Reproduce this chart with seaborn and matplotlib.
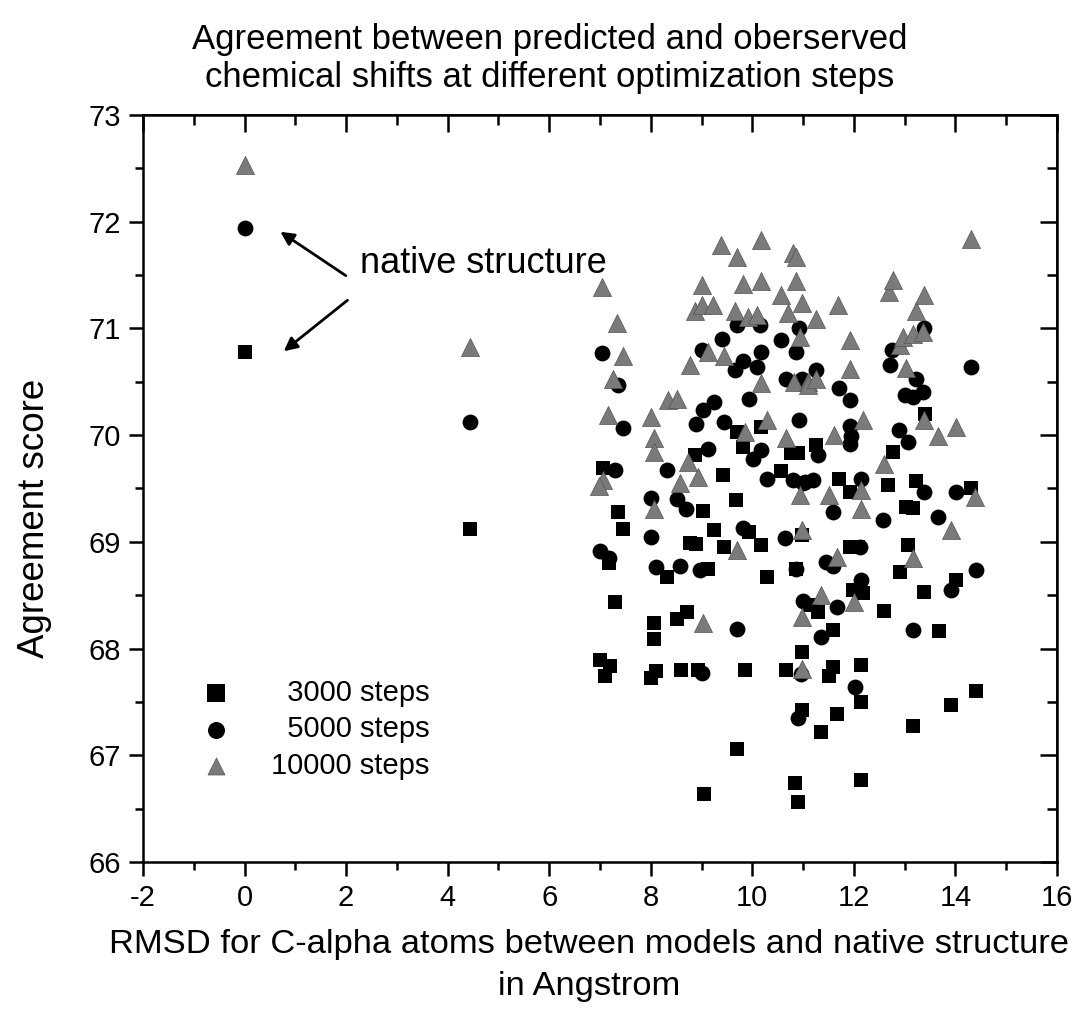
import numpy as np
import pandas as pd
import matplotlib
matplotlib.use("Agg")
import matplotlib.pyplot as plt
import seaborn as sns
from matplotlib.ticker import MultipleLocator

# ---------------- data ----------------
sq_x = [0, 4.44, 7.06, 7.36, 7.46, 7.18, 7.29, 7.01, 7.19, 7.09, 8.32, 8.06, 8.06, 8.11, 8.01,
        8.52, 8.71, 8.60, 8.93, 9.04, 8.87, 8.77, 8.89, 9.02, 9.13, 9.24, 9.44, 9.43, 9.67, 9.69,
        9.82, 9.94, 9.85, 9.70, 10.18, 10.18, 10.28, 10.57, 10.67, 10.77, 10.90, 10.97, 10.87,
        10.97, 10.97, 10.85, 10.90, 11.26, 11.29, 11.13, 11.36, 11.59, 11.59, 11.51, 11.66, 11.70,
        11.92, 11.92, 12.08, 11.98, 12.18, 12.15, 12.15, 12.15, 12.59, 12.67, 12.78, 12.90, 13.02,
        13.16, 13.07, 13.22, 13.16, 13.40, 13.39, 13.68, 13.92, 14.02, 14.31, 14.40]
sq_y = [70.78, 69.12, 69.69, 69.28, 69.12, 68.80, 68.44, 67.89, 67.84, 67.74, 68.67, 68.24, 68.09,
        67.79, 67.72, 68.28, 68.34, 67.80, 67.80, 66.64, 69.81, 68.99, 68.98, 69.29, 68.75, 69.11,
        68.95, 69.63, 69.39, 70.03, 69.89, 69.09, 67.80, 67.06, 70.08, 68.97, 68.67, 69.66, 67.80,
        69.83, 69.83, 69.06, 68.75, 67.97, 67.42, 66.74, 66.56, 69.91, 68.34, 68.41, 67.22, 68.17,
        67.83, 67.74, 67.39, 69.59, 69.47, 68.95, 68.95, 68.55, 68.52, 67.85, 67.50, 66.77, 68.35,
        69.53, 69.84, 68.72, 69.33, 69.32, 68.97, 69.57, 67.27, 70.20, 68.53, 68.16, 67.47, 68.64,
        69.50, 67.60]

ci_x = [0, 4.44, 7.03, 7.36, 7.46, 7.29, 7.00, 7.18, 8.01, 8.01, 8.10, 8.32, 8.51, 8.69, 8.58,
        8.96, 8.89, 9.02, 9.24, 9.13, 9.00, 9.41, 9.44, 9.00, 9.65, 9.82, 9.69, 9.94, 9.82, 9.69,
        10.09, 10.18, 10.16, 10.01, 10.18, 10.28, 10.57, 10.86, 10.92, 10.67, 10.97, 10.92, 10.80,
        10.99, 10.64, 10.87, 11.00, 10.95, 10.90, 11.26, 11.29, 11.03, 11.20, 11.46, 11.59, 11.59,
        11.67, 11.36, 11.71, 11.92, 11.92, 11.95, 11.92, 12.15, 12.13, 12.15, 12.02, 12.57, 12.76,
        12.72, 12.89, 13.07, 13.00, 13.16, 13.23, 13.36, 13.39, 13.39, 13.16, 13.66, 13.92, 14.02,
        14.31, 14.40]
ci_y = [71.94, 70.12, 70.77, 70.47, 70.07, 69.67, 68.91, 68.85, 69.41, 69.05, 68.76, 69.67, 69.40,
        69.31, 68.77, 68.74, 70.10, 70.24, 70.31, 69.87, 70.80, 70.90, 70.12, 67.77, 70.61, 70.69,
        71.03, 70.34, 69.13, 68.18, 70.64, 70.78, 71.03, 69.78, 69.86, 69.59, 70.89, 70.78, 71.00,
        70.53, 70.53, 70.14, 69.58, 69.55, 69.04, 68.75, 68.45, 67.76, 67.35, 70.61, 69.81, 69.56,
        69.58, 68.81, 68.77, 69.28, 68.39, 68.11, 70.44, 70.33, 70.09, 69.99, 69.92, 69.59, 68.95,
        68.64, 67.64, 69.20, 70.80, 70.66, 70.05, 69.94, 70.38, 70.36, 70.53, 70.40, 71.00, 69.47,
        68.17, 69.23, 68.55, 69.47, 70.64, 68.74]

tr_x = [0, 4.44, 7.03, 7.34, 7.46, 7.26, 7.16, 7.06, 6.98, 8.01, 8.06, 8.06, 8.07, 8.34, 8.51,
        8.73, 8.93, 8.57, 8.77, 8.87, 9.00, 9.23, 9.00, 9.03, 9.13, 9.39, 9.44, 9.69, 9.70, 9.65,
        9.81, 9.92, 9.85, 10.09, 10.18, 10.18, 10.18, 10.28, 10.57, 10.70, 10.66, 10.80, 10.87,
        10.87, 10.97, 10.93, 10.83, 11.10, 10.97, 10.93, 10.97, 10.97, 11.25, 11.09, 11.26, 11.36,
        11.52, 11.60, 11.67, 11.69, 11.92, 11.92, 12.01, 12.15, 12.15, 12.17, 12.59, 12.70, 12.77,
        12.90, 12.97, 13.03, 13.16, 13.36, 13.22, 13.39, 13.39, 13.16, 13.66, 13.92, 14.02, 14.31,
        14.38]
tr_y = [72.53, 70.83, 71.39, 71.05, 70.74, 70.53, 70.19, 69.58, 69.52, 70.17, 69.97, 69.84, 69.31,
        70.33, 70.34, 69.75, 69.61, 69.55, 70.66, 71.16, 71.22, 71.22, 71.41, 68.24, 70.78, 71.78,
        70.74, 68.92, 71.67, 71.16, 71.42, 71.11, 70.03, 71.13, 71.44, 71.83, 70.49, 70.14, 71.31,
        71.14, 69.97, 71.71, 71.67, 71.44, 71.24, 70.92, 70.50, 70.50, 69.11, 69.44, 68.30, 67.81,
        71.09, 70.47, 70.53, 68.50, 69.44, 70.00, 68.86, 71.22, 70.89, 70.62, 68.44, 69.49, 69.31,
        70.14, 69.73, 71.34, 71.45, 70.84, 70.92, 70.63, 70.95, 70.97, 71.16, 71.31, 70.14, 68.85,
        69.99, 69.11, 70.08, 71.84, 69.42]

labels = ["\u20073000 steps", "\u20075000 steps", "10000 steps"]

# ---------------- style ----------------
sns.set_theme(style="white")
plt.rcParams['font.family'] = ['Liberation Sans', 'DejaVu Sans']
plt.rcParams['axes.unicode_minus'] = False
for k in ['text.color', 'axes.labelcolor', 'xtick.color', 'ytick.color', 'axes.edgecolor']:
    plt.rcParams[k] = 'black'

fig = plt.figure(figsize=(10.79, 10.23), dpi=100)
ax = fig.add_axes([0.1325, 0.1574, 0.8471, 0.7302])

df_sq = pd.DataFrame({"x": sq_x, "y": sq_y})
df_ci = pd.DataFrame({"x": ci_x, "y": ci_y})
df_tr = pd.DataFrame({"x": tr_x, "y": tr_y})

sns.scatterplot(data=df_sq, x="x", y="y", marker="s", s=105, color="black",
                edgecolor="black", linewidth=0, ax=ax, label=labels[0], zorder=3)
sns.scatterplot(data=df_ci, x="x", y="y", marker="o", s=130, color="black",
                edgecolor="black", linewidth=0, ax=ax, label=labels[1], zorder=4)
sns.scatterplot(data=df_tr, x="x", y="y", marker="^", s=170, color="#7a7a7a",
                edgecolor="#555555", linewidth=0.5, ax=ax, label=labels[2], zorder=5)

ax.set_xlim(-2, 16)
ax.set_ylim(66, 73)
ax.xaxis.set_major_locator(MultipleLocator(2))
ax.xaxis.set_minor_locator(MultipleLocator(1))
ax.yaxis.set_major_locator(MultipleLocator(1))
ax.yaxis.set_minor_locator(MultipleLocator(0.5))
ax.tick_params(axis='both', which='major', direction='out', length=10, width=1.8,
               labelsize=21, color='black', pad=6)
ax.tick_params(axis='both', which='minor', direction='out', length=6, width=1.8,
               color='black')
ax.tick_params(bottom=True, left=True, which='both')
for sp in ax.spines.values():
    sp.set_color('black')
    sp.set_linewidth(1.8)

# mirrored ticks on top and right, pointing into the plot
secx = ax.secondary_xaxis('top')
secx.xaxis.set_major_locator(MultipleLocator(2))
secx.xaxis.set_minor_locator(MultipleLocator(1))
secx.tick_params(axis='x', which='major', direction='in', length=12, width=1.8, labeltop=False)
secx.tick_params(axis='x', which='minor', direction='in', length=7, width=1.8)
secy = ax.secondary_yaxis('right')
secy.yaxis.set_major_locator(MultipleLocator(1))
secy.yaxis.set_minor_locator(MultipleLocator(0.5))
secy.tick_params(axis='y', which='major', direction='in', length=12, width=1.8, labelright=False)
secy.tick_params(axis='y', which='minor', direction='in', length=7, width=1.8)

ax.set_xlabel("RMSD for C-alpha atoms between models and native structure\nin Angstrom",
              fontsize=24.8, labelpad=12, linespacing=1.45, x=0.488)
ax.set_ylabel("Agreement score", fontsize=26.5, labelpad=26, y=0.46)
ax.set_title("Agreement between predicted and oberserved\nchemical shifts at different optimization steps",
             fontsize=25, pad=20, linespacing=1.2, x=0.445)

# annotation
ax.text(2.27, 71.61, "native structure", fontsize=26, ha='left', va='center')
ax.annotate("", xy=(0.66, 71.92), xytext=(2.04, 71.48),
            arrowprops=dict(arrowstyle='-|>', color='black', lw=2, mutation_scale=20))
ax.annotate("", xy=(0.73, 70.77), xytext=(2.07, 71.28),
            arrowprops=dict(arrowstyle='-|>', color='black', lw=2, mutation_scale=20))

leg = ax.legend(loc='lower left', bbox_to_anchor=(0.035, 0.094), frameon=False,
                fontsize=21, labelspacing=0.3, handletextpad=0.9, borderaxespad=0)
for h in leg.legend_handles:
    h.set_sizes([150])

fig.savefig("out.png", dpi=100, facecolor='white')
